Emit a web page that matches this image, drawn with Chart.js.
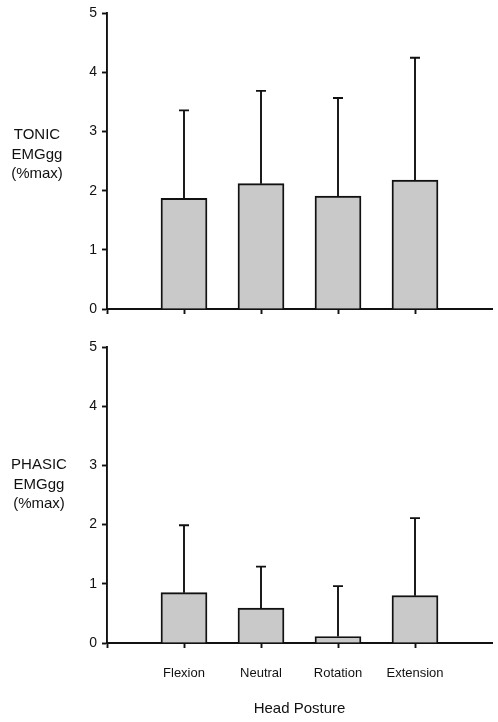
<!DOCTYPE html>
<html>
<head>
<meta charset="utf-8">
<script src="https://cdn.jsdelivr.net/npm/chart.js@4/dist/chart.umd.min.js"></script>
<style>
  html, body { margin: 0; padding: 0; background: #fff; }
  canvas { display: block; }
</style>
</head>
<body>
<canvas id="tonicChart" width="498" height="330"></canvas>
<canvas id="phasicChart" width="498" height="392"></canvas>
<script>
const postures = ["Flexion", "Neutral", "Rotation", "Extension"];
const tonicMean = [1.87, 2.12, 1.91, 2.18];
const tonicSd = [1.49, 1.57, 1.66, 2.07];
const phasicMean = [0.85, 0.59, 0.11, 0.80];
const phasicSd = [1.14, 0.70, 0.85, 1.31];
const yTicks = [0, 1, 2, 3, 4, 5];

const FONT = "'Liberation Sans', Arial, sans-serif";
const INK = "#111";
const LW = 1.9;

// empty slots at both ends so the bars sit on the inner ticks
const slotLabels = ["", ...postures, ""];
const pad = arr => [null, ...arr, null];

const errorBars = {
  id: "errorBars",
  afterDatasetsDraw(chart, args, opts) {
    const { ctx } = chart;
    const meta = chart.getDatasetMeta(0);
    const y = chart.scales.y;
    ctx.save();
    ctx.strokeStyle = INK;
    ctx.lineWidth = LW;
    meta.data.forEach((bar, i) => {
      const mean = chart.data.datasets[0].data[i];
      const sd = opts.sd[i];
      if (mean == null || sd == null) return;
      const top = y.getPixelForValue(mean + sd);
      ctx.beginPath();
      ctx.moveTo(bar.x, bar.y);
      ctx.lineTo(bar.x, top);
      ctx.moveTo(bar.x - 5, top);
      ctx.lineTo(bar.x + 5, top);
      ctx.stroke();
    });
    ctx.restore();
  }
};

const sideTitle = {
  id: "sideTitle",
  afterDraw(chart, args, opts) {
    const { ctx } = chart;
    ctx.save();
    ctx.font = "15px " + FONT;
    ctx.fillStyle = INK;
    ctx.textAlign = "center";
    ctx.textBaseline = "middle";
    opts.lines.forEach((t, i) => ctx.fillText(t, opts.x, opts.y + i * 19.5));
    ctx.restore();
  }
};

function setupChart(id, means, sds, cfg) {
  const ctx = document.getElementById(id).getContext("2d");
  return new Chart(ctx, {
    type: "bar",
    data: {
      labels: slotLabels,
      datasets: [{
        data: pad(means),
        backgroundColor: "#c9c9c9",
        borderColor: INK,
        borderWidth: LW,
        barThickness: 46
      }]
    },
    plugins: [errorBars, sideTitle],
    options: {
      responsive: false,
      animation: false,
      layout: { padding: { top: cfg.top, right: 6, left: 0, bottom: 0 } },
      plugins: {
        legend: { display: false },
        tooltip: { enabled: false },
        errorBars: { sd: pad(sds) },
        sideTitle: cfg.title
      },
      scales: {
        x: {
          type: "category",
          offset: false,
          afterFit: s => {
            s.height = cfg.xHeight;
            s.paddingLeft = 0;
            s.paddingRight = 0;
          },
          border: { display: true, color: INK, width: LW },
          grid: {
            offset: false,
            drawOnChartArea: false,
            tickLength: 5,
            tickWidth: LW,
            tickColor: c => (c.index === slotLabels.length - 1 ? "rgba(0,0,0,0)" : INK)
          },
          ticks: {
            display: cfg.showLabels,
            autoSkip: false,
            maxRotation: 0,
            padding: 18,
            color: INK,
            font: { family: FONT, size: 13 }
          },
          title: {
            display: cfg.showLabels,
            text: "Head Posture",
            color: INK,
            font: { family: FONT, size: 15 },
            padding: { top: 0, bottom: 4 }
          }
        },
        y: {
          min: 0,
          max: 5,
          afterFit: s => { s.width = 107; },
          afterBuildTicks: s => { s.ticks = yTicks.map(v => ({ value: v })); },
          border: { display: true, color: INK, width: LW },
          grid: { drawOnChartArea: false, tickLength: 5, tickWidth: LW, tickColor: INK },
          ticks: { padding: 5, color: INK, font: { family: FONT, size: 14 } }
        }
      }
    }
  });
}

const charts = {
  tonic: setupChart("tonicChart", tonicMean, tonicSd, {
    top: 12, xHeight: 21, showLabels: false,
    title: { lines: ["TONIC", "EMGgg", "(%max)"], x: 37, y: 135 }
  }),
  phasic: setupChart("phasicChart", phasicMean, phasicSd, {
    top: 17, xHeight: 79, showLabels: true,
    title: { lines: ["PHASIC", "EMGgg", "(%max)"], x: 39, y: 135 }
  })
};
</script>
</body>
</html>
